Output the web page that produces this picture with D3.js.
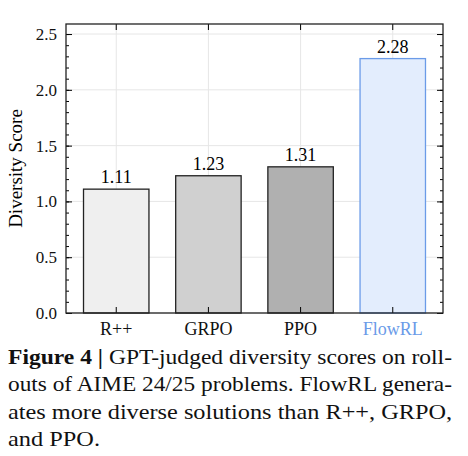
<!DOCTYPE html>
<html><head><meta charset="utf-8">
<script src="https://cdn.jsdelivr.net/npm/d3@7"></script>
<style>body{margin:0;background:#fff}</style></head>
<body><svg id="c" width="468" height="456"></svg>
<script>
var methods = ['R++', 'GRPO', 'PPO', 'FlowRL'];
var scores = [1.11, 1.23, 1.31, 2.28];
var fills = ['#efefef', '#d0d0d0', '#b0b0b0', '#e3edfd'];
var strokes = ['#222', '#222', '#222', '#6b9be8'];
var yTicks = [0, 0.5, 1, 1.5, 2, 2.5];
var captionLines = [
  [['Figure 4 |', true], [' GPT-judged diversity scores on roll-', false]],
  [['outs of AIME 24/25 problems. FlowRL genera-', false]],
  [['ates more diverse solutions than R++, GRPO,', false]],
  [['and PPO.', false]]
];

var svg = d3.select('#c'),
    margin = {top: 24, right: 25, bottom: 143, left: 66},
    width = 468 - margin.left - margin.right,
    height = 456 - margin.top - margin.bottom;
var font = '"Liberation Serif", serif';

var g = svg.append('g').attr('transform', 'translate(' + margin.left + ',' + margin.top + ')');
var x = d3.scaleBand().domain(methods).range([0, width]).paddingInner(0.29).paddingOuter(0.19);
var y = d3.scaleLinear().domain([0, 2.59]).range([height, 0]);

// grid
g.selectAll('.gy').data(yTicks).enter().append('line')
    .attr('x1', 0).attr('x2', width).attr('y1', y).attr('y2', y)
    .attr('stroke', '#e6e6e6');
g.selectAll('.gx').data(methods).enter().append('line')
    .attr('x1', function (d) { return x(d) + x.bandwidth() / 2; })
    .attr('x2', function (d) { return x(d) + x.bandwidth() / 2; })
    .attr('y1', 0).attr('y2', height).attr('stroke', '#e6e6e6');

g.selectAll('.bar').data(scores).enter().append('rect')
    .attr('x', function (d, i) { return x(methods[i]); })
    .attr('y', function (d) { return y(d); })
    .attr('width', x.bandwidth())
    .attr('height', function (d) { return height - y(d); })
    .attr('fill', function (d, i) { return fills[i]; })
    .attr('stroke', function (d, i) { return strokes[i]; })
    .attr('stroke-width', 1.3);

g.selectAll('.val').data(scores).enter().append('text')
    .attr('x', function (d, i) { return x(methods[i]) + x.bandwidth() / 2; })
    .attr('y', function (d) { return y(d) - 6; })
    .attr('text-anchor', 'middle').attr('font-family', font).attr('font-size', 18)
    .text(function (d) { return d.toFixed(2); });

// axes with inward ticks
var minor = d3.range(0, 2.55, 0.1);
function yAx(s) { s.select('.domain').remove(); s.selectAll('text').remove(); }
g.append('g').call(d3.axisLeft(y).tickValues(minor).tickSize(-3).tickFormat('')).call(yAx);
g.append('g').call(d3.axisLeft(y).tickValues(yTicks).tickSize(-6).tickFormat(d3.format('.1f')).tickPadding(9))
    .call(function (s) {
        s.select('.domain').remove();
        s.selectAll('text').attr('font-family', font).attr('font-size', 17).attr('fill', '#111');
    });
g.append('g').attr('transform', 'translate(' + width + ',0)')
    .call(d3.axisRight(y).tickValues(minor).tickSize(-3).tickFormat('')).call(yAx);
g.append('g').attr('transform', 'translate(' + width + ',0)')
    .call(d3.axisRight(y).tickValues(yTicks).tickSize(-6).tickFormat('')).call(yAx);

g.append('g').attr('transform', 'translate(0,' + height + ')')
    .call(d3.axisBottom(x).tickSize(-6).tickPadding(9))
    .call(function (s) {
        s.select('.domain').remove();
        s.selectAll('text').attr('font-family', font).attr('font-size', 18)
            .attr('fill', function (d, i) { return i === 3 ? '#6b9be8' : '#111'; });
    });
g.append('g').call(d3.axisTop(x).tickSize(-6).tickFormat(''))
    .call(function (s) { s.select('.domain').remove(); });

g.append('rect').attr('width', width).attr('height', height)
    .attr('fill', 'none').attr('stroke', '#222').attr('stroke-width', 1.3);

g.append('text').attr('transform', 'rotate(-90)')
    .attr('x', -height / 2).attr('y', -44)
    .attr('text-anchor', 'middle').attr('font-family', font).attr('font-size', 19)
    .text('Diversity Score');

// caption
var cap = svg.append('g');
captionLines.forEach(function (line, i) {
    var t = cap.append('text').attr('x', 8).attr('y', 364 + i * 27.3)
        .attr('font-family', font).attr('font-size', 21).attr('fill', '#111');
    if (i < 3) t.attr('textLength', 444).attr('lengthAdjust', 'spacingAndGlyphs');
    else t.attr('textLength', 92).attr('lengthAdjust', 'spacingAndGlyphs');
    line.forEach(function (p) {
        t.append('tspan').attr('font-weight', p[1] ? 'bold' : 'normal').text(p[0]);
    });
});
</script></body></html>
